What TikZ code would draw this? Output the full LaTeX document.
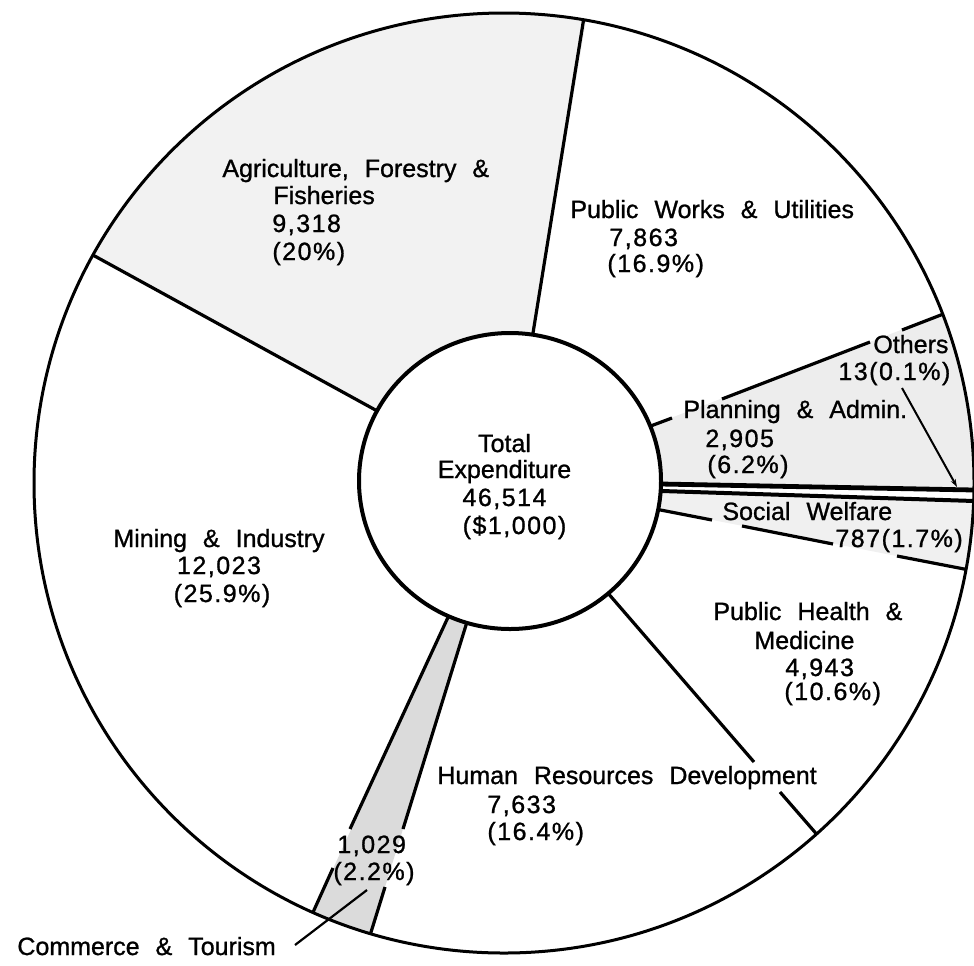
\documentclass[tikz,border=0pt]{standalone}
\usepackage{fontspec}
\setmainfont{Liberation Sans}[WordSpace=2.3,FakeBold=1]
\usetikzlibrary{arrows.meta}
\newcommand\numtxt[1]{{\addfontfeature{LetterSpace=6}#1}}
\begin{document}
\begin{tikzpicture}[x=0.5pt,y=-0.5pt,
  lbl/.style={inner sep=0pt,anchor=base west,font=\fontsize{12.5pt}{15pt}\selectfont},
  lblc/.style={lbl,anchor=base},
  divline/.style={line width=1.6pt},
  leader/.style={line width=1.1pt},
  agrifill/.style={fill=black!5},
  planfill/.style={fill=black!7},
  swfill/.style={fill=black!6},
  comfill/.style={fill=black!14}]
\useasboundingbox (0,0) rectangle (974,965);
\coordinate (oc) at (504,483);
\coordinate (ic) at (510,481);
% shaded slices and dividing lines, clipped to the outer circle
\begin{scope}
  \clip (oc) circle [radius=235pt];
  \fill[agrifill] (373,409) -- (533,332) -- (600,-60) -- (-60,-60) -- (-60,172) -- cycle;
  \fill[planfill] (600,445) -- (1050,273) -- (1050,492) -- (600,483) -- cycle;
  \fill[swfill] (600,489) -- (1050,503.5) -- (1050,586) -- (600,498) -- cycle;
  \fill[comfill] (456,600) -- (273,1000) -- (350,1000) -- (474,600) -- cycle;
  % Agriculture / Public Works
  \coordinate (l1a) at (523,395); \coordinate (l1b) at (590,-20);
  \draw[divline] (l1a) -- (l1b);
  % Agriculture / Mining
  \coordinate (l2a) at (401,424); \coordinate (l2b) at (60,237);
  \draw[divline] (l2a) -- (l2b);
  % Mining / Commerce
  \coordinate (l3a) at (456,600); \coordinate (l3b) at (350,829);
  \coordinate (l3c) at (333,868); \coordinate (l3d) at (305,930);
  \draw[divline] (l3a) -- (l3b) (l3c) -- (l3d);
  % Commerce / Human Resources
  \coordinate (l4a) at (471,609); \coordinate (l4b) at (403,829);
  \coordinate (l4c) at (385,887); \coordinate (l4d) at (363,958);
  \draw[divline] (l4a) -- (l4b) (l4c) -- (l4d);
  % Human Resources / Public Health
  \coordinate (l5a) at (594,577); \coordinate (l5b) at (754,762);
  \coordinate (l5c) at (780,792); \coordinate (l5d) at (840,861);
  \draw[divline] (l5a) -- (l5b) (l5c) -- (l5d);
  % Public Health / Social Welfare
  \coordinate (l6a) at (640,506); \coordinate (l6b) at (712,520);
  \coordinate (l6c) at (742,526); \coordinate (l6d) at (833,544);
  \coordinate (l6e) at (897,556); \coordinate (l6f) at (990,574);
  \draw[divline] (l6a) -- (l6b) (l6c) -- (l6d) (l6e) -- (l6f);
  % Public Works / Planning
  \coordinate (l7a) at (640,430); \coordinate (l7b) at (672,418);
  \coordinate (l7c) at (722,399); \coordinate (l7d) at (870,342);
  \coordinate (l7e) at (902,330); \coordinate (l7f) at (990,296);
  \draw[divline] (l7a) -- (l7b) (l7c) -- (l7d) (l7e) -- (l7f);
  % Others strip
  \coordinate (laa) at (640,483.6); \coordinate (lab) at (990,490.3);
  \draw[line width=2.4pt] (laa) -- (lab);
  \coordinate (lba) at (640,490.3); \coordinate (lbb) at (990,501.5);
  \draw[line width=2pt] (lba) -- (lbb);
\end{scope}
\draw[line width=1.5pt] (oc) circle [radius=235pt];
\filldraw[fill=white,line width=2pt] (ic) ellipse [x radius=75.5pt,y radius=74pt];
% leaders
\coordinate (oth1) at (902,388); \coordinate (oth2) at (957,487);
\draw[line width=1pt,-{Stealth[length=4pt,width=2.6pt]}] (oth1) -- (oth2);
\coordinate (com1) at (367,890); \coordinate (com2) at (295,945);
\draw[leader] (com1) -- (com2);
% labels
\node[lbl] (agA) at (222,177) {Agriculture, Forestry \&};
\node[lbl] (agB) at (273,204) {Fisheries};
\node[lbl] (agC) at (272,232) {\numtxt{9,318}};
\node[lbl] (agD) at (272,260) {\numtxt{(20\%)}};
\node[lbl] (pwA) at (570,218) {Public Works \& Utilities};
\node[lbl] (pwB) at (609,246) {\numtxt{7,863}};
\node[lbl] (pwC) at (607,272) {\numtxt{(16.9\%)}};
\node[lbl] (otA) at (873,353) {Others};
\node[lbl] (otB) at (838,380) {\numtxt{13(0.1\%)}};
\node[lbl] (plA) at (683,418) {Planning \& Admin.};
\node[lbl] (plB) at (705,447) {\numtxt{2,905}};
\node[lbl] (plC) at (707,473) {\numtxt{(6.2\%)}};
\node[lbl] (swA) at (722,520) {Social Welfare};
\node[lbl] (swB) at (835,547) {\numtxt{787(1.7\%)}};
\node[lblc] (toA) at (504.5,452) {Total};
\node[lblc] (toB) at (504.5,478) {Expenditure};
\node[lblc] (toC) at (504.5,506) {\numtxt{46,514}};
\node[lblc] (toD) at (514.5,534) {\numtxt{(\$1,000)}};
\node[lblc] (miA) at (219,547) {Mining \& Industry};
\node[lblc] (miB) at (219,574) {\numtxt{12,023}};
\node[lblc] (miC) at (222,602) {\numtxt{(25.9\%)}};
\node[lbl] (coA) at (337,853) {\numtxt{1,029}};
\node[lbl] (coB) at (333,880) {\numtxt{(2.2\%)}};
\node[lbl] (coC) at (17,955) {Commerce \& Tourism};
\node[lbl] (huA) at (437,784) {Human Resources Development};
\node[lbl] (huB) at (487,813) {\numtxt{7,633}};
\node[lbl] (huC) at (487,840) {\numtxt{(16.4\%)}};
\node[lbl] (phA) at (713,620) {Public Health \&};
\node[lbl] (phB) at (754,649) {Medicine};
\node[lbl] (phC) at (785,676) {\numtxt{4,943}};
\node[lbl] (phD) at (784,700) {\numtxt{(10.6\%)}};
\end{tikzpicture}
\end{document}
